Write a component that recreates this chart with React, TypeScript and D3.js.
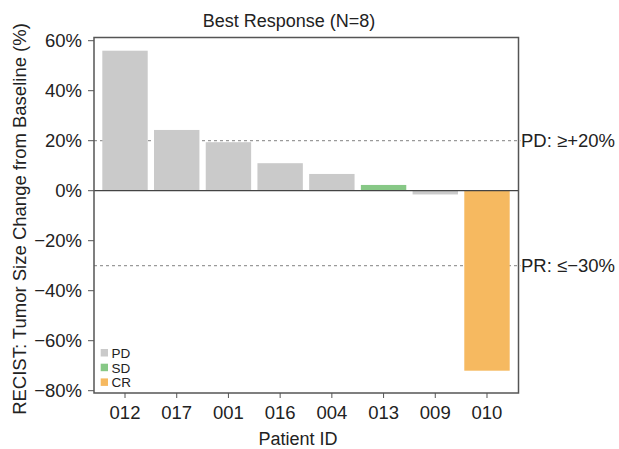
import React from "react";
import * as d3 from "d3";

const patients = ["012", "017", "001", "016", "004", "013", "009", "010"];
const changes = [56, 24.3, 19.4, 11, 6.7, 2.3, -1.5, -72];
const responses = ["PD", "PD", "PD", "PD", "PD", "SD", "PD", "CR"];
const yTicks = [60, 40, 20, 0, -20, -40, -60, -80];
const legendItems = ["PD", "SD", "CR"];
const refLines = [
  { value: 20, label: "PD: \u2265+20%" },
  { value: -30, label: "PR: \u2264\u221230%" },
];

const colors: Record<string, string> = { PD: "#cacaca", SD: "#87c886", CR: "#f6b960" };

const W = 619, H = 449;
const left = 94, right = 518.5, top = 37.5, bottom = 393;
const font = "'Liberation Sans', Arial, Helvetica, sans-serif";
const textColor = "#222";

export default function App() {
  const x = d3.scaleBand().domain(patients).range([94.5, 517.5]).paddingInner(0.122).paddingOuter(0.151);
  const y = d3.scaleLinear().domain([-80, 60]).range([390.7, 40.7]);
  const fmt = (v: number) => (v < 0 ? "\u2212" + Math.abs(v) : String(v)) + "%";
  const cx = (p: string) => x(p)! + x.bandwidth() / 2;
  return (
    <svg width={W} height={H} style={{ position: "absolute", left: 0, top: 0, background: "#fff" }} fontFamily={font}>
      <text x={289} y={27} textAnchor="middle" fontSize={18} fill={textColor}>Best Response (N=8)</text>
      {refLines.map((r) => (
        <line key={r.label} x1={left} x2={right + 2} y1={y(r.value)} y2={y(r.value)} stroke="#9a9a9a" strokeWidth={1.2} strokeDasharray="3,3" />
      ))}
      {patients.map((p, i) => {
        const v = changes[i];
        return (
          <rect key={p} x={x(p)} width={x.bandwidth()} y={Math.min(y(v), y(0))} height={Math.abs(y(v) - y(0))} fill={colors[responses[i]]} />
        );
      })}
      <line x1={left} x2={right} y1={y(0)} y2={y(0)} stroke="#444" strokeWidth={1.3} />
      <rect x={left} y={top} width={right - left} height={bottom - top} fill="none" stroke="#555" strokeWidth={1.5} />
      {refLines.map((r) => (
        <text key={r.label} x={521} y={y(r.value) + 6.5} fontSize={18.5} fill={textColor}>{r.label}</text>
      ))}
      {yTicks.map((t) => (
        <g key={t}>
          <line x1={left - 6} x2={left} y1={y(t)} y2={y(t)} stroke="#555" strokeWidth={1} />
          <text x={left - 12} y={y(t) + 6.5} textAnchor="end" fontSize={18.5} fill={textColor}>{fmt(t)}</text>
        </g>
      ))}
      {patients.map((p) => (
        <g key={p}>
          <line x1={cx(p)} x2={cx(p)} y1={bottom} y2={bottom + 5} stroke="#555" strokeWidth={1} />
          <text x={cx(p)} y={419} textAnchor="middle" fontSize={18.5} fill={textColor}>{p}</text>
        </g>
      ))}
      <text x={298} y={445} textAnchor="middle" fontSize={18} fill={textColor}>Patient ID</text>
      <text transform={`translate(25.5,${219}) rotate(-90)`} textAnchor="middle" fontSize={18.5} fill={textColor}>RECIST: Tumor Size Change from Baseline (%)</text>
      {legendItems.map((l, i) => (
        <g key={l}>
          <rect x={100.7} y={349 + i * 14.7} width={7.3} height={7.5} fill={colors[l]} />
          <text x={111.5} y={358 + i * 14.7} fontSize={13.5} fill={textColor}>{l}</text>
        </g>
      ))}
    </svg>
  );
}
